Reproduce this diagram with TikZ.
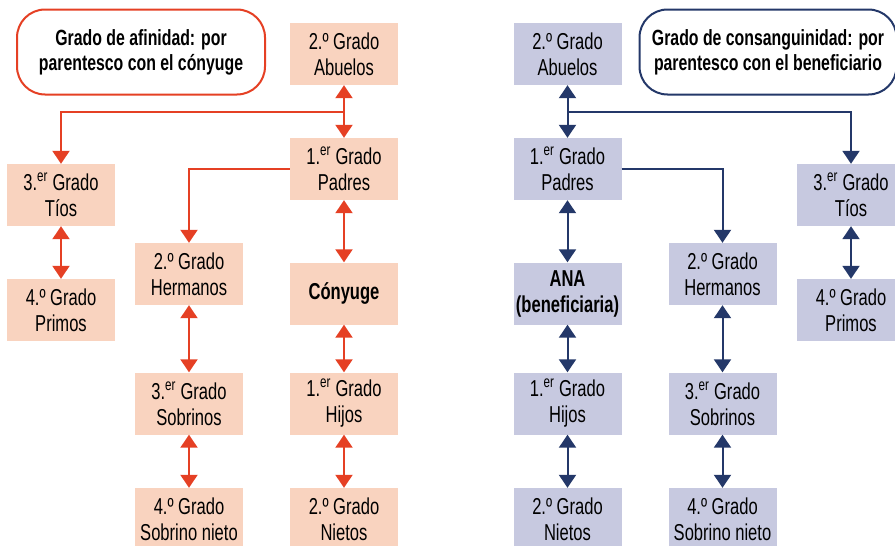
\documentclass[tikz,border=0pt]{standalone}
\usepackage{fontspec}
\setmainfont[FakeStretch=0.72]{Liberation Sans}
\usepackage{xcolor}
\usetikzlibrary{arrows.meta, positioning, calc}
\definecolor{afinFill}{RGB}{249, 211, 191}
\definecolor{afinLine}{RGB}{229, 64, 36}
\definecolor{consFill}{RGB}{199, 201, 224}
\definecolor{consLine}{RGB}{36, 56, 105}

\begin{document}
\begin{tikzpicture}[
    x=1pt, y=-1pt,
    kin/.style={rectangle, minimum width=108pt, minimum height=62pt, inner sep=0pt, align=center, font=\fontsize{23}{26}\selectfont},
    kin afin/.style={kin, fill=afinFill},
    kin cons/.style={kin, fill=consFill},
    heading/.style={rectangle, rounded corners=28pt, line width=2pt, fill=white, minimum height=85pt, align=center, font=\fontsize{22}{25}\selectfont\bfseries},
    link/.style={line width=2pt, {Triangle[width=17pt,length=13pt]}-{Triangle[width=17pt,length=13pt]}},
    branch/.style={line width=2pt, -{Triangle[width=17pt,length=13pt]}}
]
    \useasboundingbox (0,0) rectangle (895,546);

    % afinidad
    \node[heading, draw=afinLine, minimum width=248pt] (titleA) at (141,52) {Grado de afinidad: por\\parentesco con el cónyuge};
    \node[kin afin] (abuelosA) at (344,54) {2.º Grado\\Abuelos};
    \node[kin afin] (padresA) at (344,169) {1.\textsuperscript{er} Grado\\Padres};
    \node[kin afin] (conyuge) at (344,293.5) {\bfseries Cónyuge};
    \node[kin afin] (hijosA) at (344,403.5) {1.\textsuperscript{er} Grado\\Hijos};
    \node[kin afin] (nietosA) at (344,519) {2.º Grado\\Nietos};
    \node[kin afin] (tiosA) at (61,195) {3.\textsuperscript{er} Grado\\Tíos};
    \node[kin afin] (primosA) at (61,310) {4.º Grado\\Primos};
    \node[kin afin] (hermanosA) at (189,274) {2.º Grado\\Hermanos};
    \node[kin afin] (sobrinosA) at (189,403.5) {3.\textsuperscript{er} Grado\\Sobrinos};
    \node[kin afin] (nietoA) at (189,519) {4.º Grado\\Sobrino nieto};

    \coordinate (splitA) at ($(abuelosA.south)!0.5!(padresA.north)$);
    \begin{scope}[afinLine]
        \draw[link] (abuelosA) -- (padresA);
        \draw[branch] (splitA) -| (tiosA);
        \draw[branch] (padresA.west) -| (hermanosA);
        \draw[link] (padresA) -- (conyuge);
        \draw[link] (conyuge) -- (hijosA);
        \draw[link] (hijosA) -- (nietosA);
        \draw[link] (tiosA) -- (primosA);
        \draw[link] (hermanosA) -- (sobrinosA);
        \draw[link] (sobrinosA) -- (nietoA);
    \end{scope}

    % consanguinidad
    \node[heading, draw=consLine, minimum width=257pt] (titleC) at (768,52) {Grado de consanguinidad: por\\parentesco con el beneficiario};
    \node[kin cons] (abuelosC) at (567.5,54) {2.º Grado\\Abuelos};
    \node[kin cons] (padresC) at (567.5,169) {1.\textsuperscript{er} Grado\\Padres};
    \node[kin cons] (ana) at (567.5,293.5) {\bfseries ANA\\\bfseries(beneficiaria)};
    \node[kin cons] (hijosC) at (567.5,403.5) {1.\textsuperscript{er} Grado\\Hijos};
    \node[kin cons] (nietosC) at (567.5,519) {2.º Grado\\Nietos};
    \node[kin cons] (hermanosC) at (722.5,274) {2.º Grado\\Hermanos};
    \node[kin cons] (sobrinosC) at (722.5,403.5) {3.\textsuperscript{er} Grado\\Sobrinos};
    \node[kin cons] (nietoC) at (722.5,519) {4.º Grado\\Sobrino nieto};
    \node[kin cons] (tiosC) at (851,195) {3.\textsuperscript{er} Grado\\Tíos};
    \node[kin cons] (primosC) at (851,310) {4.º Grado\\Primos};

    \coordinate (splitC) at ($(abuelosC.south)!0.5!(padresC.north)$);
    \begin{scope}[consLine]
        \draw[link] (abuelosC) -- (padresC);
        \draw[branch] (splitC) -| (tiosC);
        \draw[branch] (padresC.east) -| (hermanosC);
        \draw[link] (padresC) -- (ana);
        \draw[link] (ana) -- (hijosC);
        \draw[link] (hijosC) -- (nietosC);
        \draw[link] (tiosC) -- (primosC);
        \draw[link] (hermanosC) -- (sobrinosC);
        \draw[link] (sobrinosC) -- (nietoC);
    \end{scope}
\end{tikzpicture}
\end{document}
